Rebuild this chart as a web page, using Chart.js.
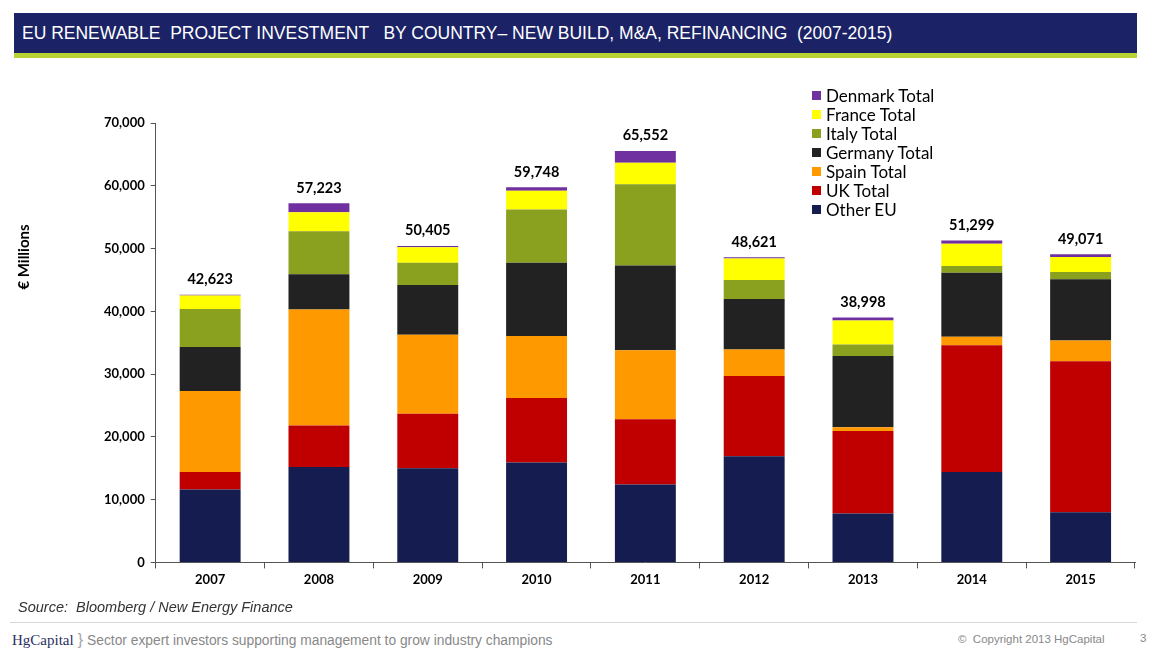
<!DOCTYPE html>
<html>
<head>
<meta charset="utf-8">
<script src="https://cdn.jsdelivr.net/npm/chart.js@4"></script>
<style>
  body { margin: 0; background: #fff; width: 1154px; height: 660px; position: relative; overflow: hidden; font-family: Arial, "Liberation Sans", sans-serif; }
  #titleBar { position: absolute; left: 14px; top: 13px; width: 1123px; height: 40px; background: #1b2366; border-bottom: 5px solid #b7d433; }
  #titleBar span { position: absolute; left: 8px; top: 10px; color: #fff; font-size: 17.5px; }
  #chartBox { position: absolute; left: 0; top: 70px; width: 1154px; height: 530px; }
  #yTitle { position: absolute; left: 0px; top: 248px; transform: rotate(-90deg); transform-origin: center; font-family: Lato, sans-serif; font-weight: bold; font-size: 15px; width: 90px; margin-left: -22px; text-align: center; }
  #legend { position: absolute; left: 812px; top: 86px; font-family: Lato, sans-serif; font-size: 17px; line-height: 19px; }
  #legend div { display: flex; align-items: center; }
  #legend i { display: inline-block; width: 9px; height: 9px; margin-right: 5px; }
  #source { position: absolute; left: 18px; top: 599px; font-size: 14.5px; font-style: italic; color: #333; }
  #rule { position: absolute; left: 10px; top: 622px; width: 1127px; border-top: 1px solid #d8d8d8; }
  #footer { position: absolute; left: 12px; top: 630px; font-size: 13.8px; color: #888; }
  #footer .logo { font-family: "Liberation Serif", serif; color: #2a3060; font-size: 15px; }
  #copy { position: absolute; left: 958px; top: 633px; font-size: 11.5px; color: #888; }
  #page { position: absolute; left: 1140px; top: 632px; font-size: 11.5px; color: #888; }
</style>
</head>
<body>
<div id="titleBar"><span>EU RENEWABLE &nbsp;PROJECT INVESTMENT &nbsp; BY COUNTRY– NEW BUILD, M&amp;A, REFINANCING &nbsp;(2007-2015)</span></div>
<div id="chartBox"><canvas id="chart"></canvas></div>
<div id="yTitle">€ Millions</div>
<div id="legend"></div>
<div id="source">Source: &nbsp;Bloomberg / New Energy Finance</div>
<div id="rule"></div>
<div id="footer"><span class="logo">HgCapital</span> <span style="font-size:17px;color:#aaa">}</span> Sector expert investors supporting management to grow industry champions</div>
<div id="copy">© &nbsp;Copyright 2013 HgCapital</div>
<div id="page">3</div>
<script>
// Data (€ millions)
const years = ['2007', '2008', '2009', '2010', '2011', '2012', '2013', '2014', '2015'];
const otherEU = [11600, 15200, 15000, 15900, 12400, 16900, 7800, 14400, 8000];
const uk = [2800, 6600, 8700, 10300, 10400, 12800, 13150, 20200, 24050];
const spain = [12900, 18500, 12550, 9850, 11000, 4200, 600, 1350, 3300];
const germany = [7000, 5600, 7950, 11700, 13500, 8050, 11350, 10200, 9750];
const italy = [6050, 6850, 3550, 8450, 12950, 3050, 1800, 1050, 1150];
const france = [2150, 3050, 2450, 3000, 3400, 3400, 3850, 3550, 2400];
const denmark = [123, 1423, 205, 548, 1902, 221, 448, 549, 421];
const totals = ['42,623', '57,223', '50,405', '59,748', '65,552', '48,621', '38,998', '51,299', '49,071'];
const yTicks = [0, 10000, 20000, 30000, 40000, 50000, 60000, 70000];

const series = [
    { label: 'Other EU', data: otherEU, color: '#151c4f' },
    { label: 'UK Total', data: uk, color: '#c00000' },
    { label: 'Spain Total', data: spain, color: '#ff9900' },
    { label: 'Germany Total', data: germany, color: '#222222' },
    { label: 'Italy Total', data: italy, color: '#8aa120' },
    { label: 'France Total', data: france, color: '#ffff00' },
    { label: 'Denmark Total', data: denmark, color: '#7030a0' }
];

// Legend (top to bottom = reversed stack order)
const legend = document.getElementById('legend');
legend.innerHTML = series.slice().reverse().map(s =>
    `<div><i style="background:${s.color}"></i>${s.label}</div>`).join('');

// Total labels above each stack
const totalsPlugin = {
    id: 'totals',
    afterDatasetsDraw: (chart) => {
        const ctx = chart.ctx;
        const top = chart.getDatasetMeta(chart.data.datasets.length - 1);
        ctx.save();
        ctx.font = 'bold 14.5px Lato, sans-serif';
        ctx.fillStyle = '#000';
        ctx.textAlign = 'center';
        ctx.textBaseline = 'bottom';
        top.data.forEach((bar, i) => {
            ctx.fillText(totals[i], bar.x, bar.y - 8);
        });
        ctx.restore();
    }
};

new Chart(document.getElementById('chart'), {
    type: 'bar',
    plugins: [totalsPlugin],
    data: {
        labels: years,
        datasets: series.map(s => ({
            label: s.label,
            data: s.data,
            backgroundColor: s.color,
            borderWidth: 0,
            categoryPercentage: 1,
            barPercentage: 0.56
        }))
    },
    options: {
        responsive: true,
        maintainAspectRatio: false,
        animation: false,
        layout: { padding: { left: 98, right: 19, top: 53, bottom: 8 } },
        plugins: {
            legend: { display: false },
            tooltip: { enabled: false }
        },
        scales: {
            x: {
                stacked: true,
                grid: { offset: true, drawOnChartArea: false, color: '#555', tickLength: 6 },
                border: { color: '#555', width: 1 },
                ticks: { color: '#000', font: { family: 'Lato', weight: 'bold', size: 13 }, padding: 4 }
            },
            y: {
                stacked: true,
                min: 0,
                max: 70000,
                afterBuildTicks: (axis) => { axis.ticks = yTicks.map(v => ({ value: v })); },
                grid: { drawOnChartArea: false, color: '#555', tickLength: 5 },
                border: { color: '#555', width: 1 },
                ticks: {
                    color: '#000',
                    font: { family: 'Lato', weight: 'bold', size: 13 },
                    padding: 6,
                    callback: (v) => v.toLocaleString('en-US')
                }
            }
        }
    }
});
</script>
</body>
</html>
